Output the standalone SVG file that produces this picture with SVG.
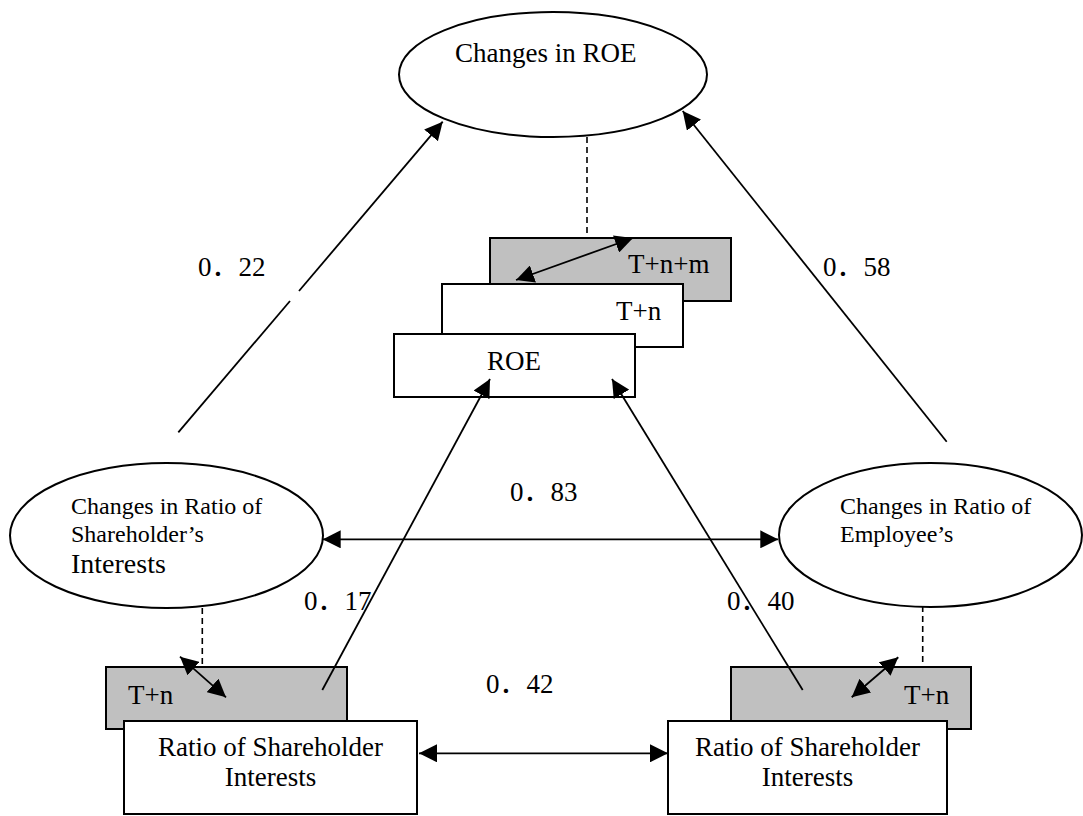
<svg xmlns="http://www.w3.org/2000/svg" width="1083" height="816" viewBox="0 0 1083 816">
<style>
.sh{fill:none;stroke:#000;stroke-width:2}
.box{fill:#fff;stroke:#000;stroke-width:2}
.gbox{fill:#c0c0c0;stroke:#000;stroke-width:2}
.ln{fill:none;stroke:#000;stroke-width:1.8}
.dash{fill:none;stroke:#000;stroke-width:1.6;stroke-dasharray:6 4}
text{font-family:"Liberation Serif","Times New Roman","Noto Sans CJK SC",serif;fill:#000}
.t24{font-size:24px}
.t27{font-size:27px}
.num{font-size:27px}
</style>
<defs>
<marker id="ah" markerUnits="userSpaceOnUse" markerWidth="18" markerHeight="18" viewBox="0 0 16 16" refX="16" refY="8" orient="auto-start-reverse">
<path d="M0,0 L16,8 L0,16 z" fill="#000"/>
</marker>
</defs>
<rect width="1083" height="816" fill="#fff"/>

<g id="roe-change">
<ellipse class="sh" fill="#fff" cx="553" cy="74.5" rx="154" ry="62.5"/>
<text class="t27" x="455" y="62">Changes in ROE</text>
</g>

<g id="roe-stack">
<rect class="gbox" x="490" y="238" width="241" height="63"/>
<text class="t27" x="628" y="273">T+n+m</text>
<rect class="box" x="442" y="284" width="241" height="63"/>
<text class="t27" x="616" y="320">T+n</text>
<rect class="box" x="394" y="334" width="241" height="63"/>
<text class="t27" x="487" y="370">ROE</text>
</g>

<g id="sh-change">
<ellipse class="sh" fill="#fff" cx="166.5" cy="535.5" rx="156.5" ry="72.5"/>
<text class="t24" x="71" y="514">Changes in Ratio of</text>
<text class="t24" x="71" y="542">Shareholder’s</text>
<text class="t27" x="71" y="573" style="font-size:28px">Interests</text>
</g>

<g id="emp-change">
<ellipse class="sh" fill="#fff" cx="930.5" cy="535" rx="151.5" ry="72"/>
<text class="t24" x="840" y="514">Changes in Ratio of</text>
<text class="t24" x="840" y="542">Employee’s</text>
</g>

<g id="sh-ratio">
<rect class="gbox" x="106" y="667" width="241" height="62"/>
<text class="t27" x="128" y="704">T+n</text>
<rect class="box" x="124" y="721" width="293" height="93"/>
<text class="t27" x="270.5" y="756" text-anchor="middle">Ratio of Shareholder</text>
<text class="t27" x="270.5" y="786" text-anchor="middle">Interests</text>
</g>

<g id="emp-ratio">
<rect class="gbox" x="731" y="667" width="240" height="62"/>
<text class="t27" x="904" y="704">T+n</text>
<rect class="box" x="668" y="721" width="279" height="93"/>
<text class="t27" x="807.5" y="756" text-anchor="middle">Ratio of Shareholder</text>
<text class="t27" x="807.5" y="786" text-anchor="middle">Interests</text>
</g>

<g id="connectors">
<line class="dash" x1="587" y1="137" x2="587" y2="238"/>
<line class="ln" x1="516" y1="280" x2="633" y2="238" marker-start="url(#ah)" marker-end="url(#ah)"/>
<line class="ln" x1="178.3" y1="432.3" x2="290" y2="301"/>
<line class="ln" x1="299" y1="291" x2="442.7" y2="121.7" marker-end="url(#ah)"/>
<line class="ln" x1="946.7" y1="441.7" x2="682.7" y2="111" marker-end="url(#ah)"/>
<line class="ln" x1="322.7" y1="539.3" x2="778.3" y2="539.3" marker-start="url(#ah)" marker-end="url(#ah)"/>
<line class="ln" x1="322.3" y1="690" x2="490" y2="379" marker-end="url(#ah)"/>
<line class="ln" x1="802.7" y1="690" x2="612" y2="379" marker-end="url(#ah)"/>
<line class="dash" x1="202.3" y1="608" x2="202.3" y2="667"/>
<line class="ln" x1="180" y1="656.7" x2="226" y2="697.3" marker-start="url(#ah)" marker-end="url(#ah)"/>
<line class="dash" x1="922.7" y1="606" x2="922.7" y2="667"/>
<line class="ln" x1="851.7" y1="697.3" x2="898.3" y2="657.3" marker-start="url(#ah)" marker-end="url(#ah)"/>
<line class="ln" x1="419" y1="753.3" x2="668" y2="753.3" marker-start="url(#ah)" marker-end="url(#ah)"/>
</g>

<g id="labels">
<text class="num" x="198" y="276">0．22</text>
<text class="num" x="823" y="276">0．58</text>
<text class="num" x="510" y="501">0．83</text>
<text class="num" x="304" y="610">0．17</text>
<text class="num" x="727" y="610">0．40</text>
<text class="num" x="486" y="693">0．42</text>
</g>
</svg>
